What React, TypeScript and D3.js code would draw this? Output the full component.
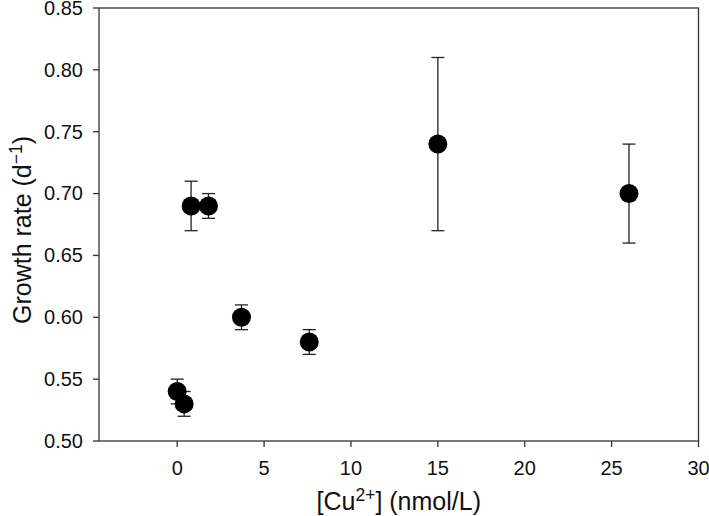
import React from "react";
import * as d3 from "d3";

const cuConc = [0, 0.4, 0.8, 1.8, 3.7, 7.6, 15, 26];
const growthRate = [0.54, 0.53, 0.69, 0.69, 0.6, 0.58, 0.74, 0.7];
const errLow = [0.01, 0.01, 0.02, 0.01, 0.01, 0.01, 0.07, 0.04];
const errHigh = [0.01, 0.01, 0.02, 0.01, 0.01, 0.01, 0.07, 0.04];
const xTicks = [0, 5, 10, 15, 20, 25, 30];
const yTicks = [0.5, 0.55, 0.6, 0.65, 0.7, 0.75, 0.8, 0.85];

const W = 709;
const H = 516;
const left = 99;
const right = 698.5;
const top = 8;
const bottom = 441;
const font = "'Liberation Sans', Arial, Helvetica, sans-serif";
const axisColor = "#333";

export default function App() {
  const x = d3.scaleLinear().domain([-4.5, 30]).range([left, right]);
  const y = d3.scaleLinear().domain([0.5, 0.85]).range([bottom, top]);
  const capHalf = 6.5;

  return (
    <svg
      width={W}
      height={H}
      style={{ position: "absolute", left: 0, top: 0, background: "#fff" }}
      fontFamily={font}
    >
      <rect x={0} y={0} width={W} height={H} fill="#fff" />
      <rect
        x={left}
        y={top}
        width={right - left}
        height={bottom - top}
        fill="none"
        stroke={axisColor}
        strokeWidth={1.3}
      />
      {xTicks.map((t) => (
        <g key={"x" + t}>
          <line x1={x(t)} x2={x(t)} y1={bottom} y2={bottom + 6} stroke={axisColor} strokeWidth={1.3} />
          <text x={x(t)} y={474.5} textAnchor="middle" fontSize={20} fill="#111">
            {t}
          </text>
        </g>
      ))}
      {yTicks.map((t) => (
        <g key={"y" + t}>
          <line x1={left - 6} x2={left} y1={y(t)} y2={y(t)} stroke={axisColor} strokeWidth={1.3} />
          <text x={83} y={y(t) + 6.8} textAnchor="end" fontSize={20} fill="#111">
            {t.toFixed(2)}
          </text>
        </g>
      ))}
      {cuConc.map((c, i) => {
        const cx = x(c);
        const yl = y(growthRate[i] - errLow[i]);
        const yh = y(growthRate[i] + errHigh[i]);
        return (
          <g key={"e" + i} stroke="#222" strokeWidth={1.3}>
            <line x1={cx} x2={cx} y1={yl} y2={yh} />
            <line x1={cx - capHalf} x2={cx + capHalf} y1={yl} y2={yl} />
            <line x1={cx - capHalf} x2={cx + capHalf} y1={yh} y2={yh} />
          </g>
        );
      })}
      {cuConc.map((c, i) => (
        <circle key={"p" + i} cx={x(c)} cy={y(growthRate[i])} r={9.5} fill="#000" />
      ))}
      <text x={(left + right) / 2} y={510} textAnchor="middle" fontSize={25} fill="#111">
        [Cu
        <tspan dy={-9.5} fontSize={17.5}>2+</tspan>
        <tspan dy={9.5}>] (nmol/L)</tspan>
      </text>
      <text transform={`translate(31, 230) rotate(-90)`} textAnchor="middle" fontSize={25} fill="#111">
        Growth rate (d
        <tspan dy={-9.5} fontSize={17.5}>−1</tspan>
        <tspan dy={9.5}>)</tspan>
      </text>
    </svg>
  );
}
